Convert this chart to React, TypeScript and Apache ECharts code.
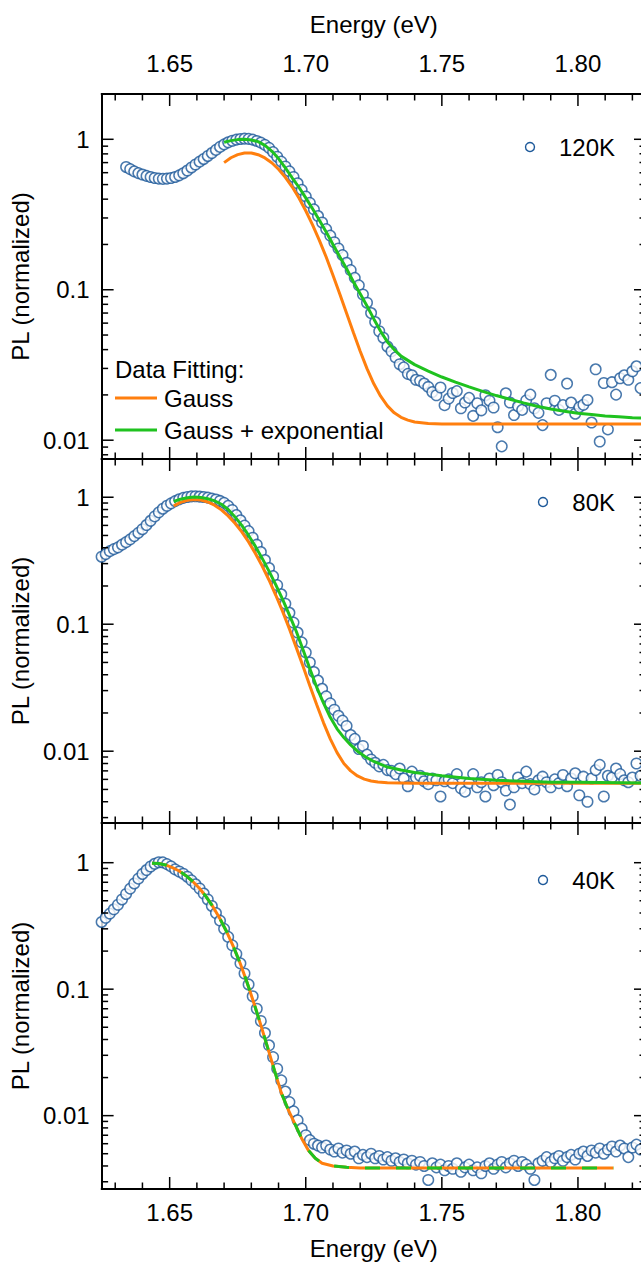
import { useEffect, useRef } from "react";
import * as echarts from "echarts";

// ---------- data ----------
const ENERGY = [
  1.6250, 1.6265, 1.6280, 1.6295, 1.6310, 1.6325, 1.6340, 1.6355, 1.6370, 1.6385,
  1.6400, 1.6415, 1.6430, 1.6445, 1.6460, 1.6475, 1.6490, 1.6505, 1.6520, 1.6535,
  1.6550, 1.6565, 1.6580, 1.6595, 1.6610, 1.6625, 1.6640, 1.6655, 1.6670, 1.6685,
  1.6700, 1.6715, 1.6730, 1.6745, 1.6760, 1.6775, 1.6790, 1.6805, 1.6820, 1.6835,
  1.6850, 1.6865, 1.6880, 1.6895, 1.6910, 1.6925, 1.6940, 1.6955, 1.6970, 1.6985,
  1.7000, 1.7015, 1.7030, 1.7045, 1.7060, 1.7075, 1.7090, 1.7105, 1.7120, 1.7135,
  1.7150, 1.7165, 1.7180, 1.7195, 1.7210, 1.7225, 1.7240, 1.7255, 1.7270, 1.7285,
  1.7300, 1.7315, 1.7330, 1.7345, 1.7360, 1.7375, 1.7390, 1.7405, 1.7420, 1.7435,
  1.7450, 1.7465, 1.7480, 1.7495, 1.7510, 1.7525, 1.7540, 1.7555, 1.7570, 1.7585,
  1.7600, 1.7615, 1.7630, 1.7645, 1.7660, 1.7675, 1.7690, 1.7705, 1.7720, 1.7735,
  1.7750, 1.7765, 1.7780, 1.7795, 1.7810, 1.7825, 1.7840, 1.7855, 1.7870, 1.7885,
  1.7900, 1.7915, 1.7930, 1.7945, 1.7960, 1.7975, 1.7990, 1.8005, 1.8020, 1.8035,
  1.8050, 1.8065, 1.8080, 1.8095, 1.8110, 1.8125, 1.8140, 1.8155, 1.8170, 1.8185,
  1.8200, 1.8215, 1.8230,
];

const PL_120K = [
  null, null, null, null, null, null, 0.655, 0.633, 0.612, 0.596,
  0.583, 0.571, 0.561, 0.553, 0.548, 0.546, 0.548, 0.553, 0.562, 0.576,
  0.595, 0.620, 0.650, 0.680, 0.710, 0.740, 0.775, 0.810, 0.850, 0.890,
  0.925, 0.955, 0.978, 0.995, 1.005, 1.010, 1.007, 0.995, 0.975, 0.950,
  0.918, 0.877, 0.822, 0.766, 0.711, 0.660, 0.612, 0.562, 0.510, 0.461,
  0.417, 0.378, 0.342, 0.309, 0.280, 0.253, 0.229, 0.207, 0.188, 0.170,
  0.151, 0.135, 0.120, 0.107, 0.093, 0.082, 0.070, 0.061, 0.053, 0.048,
  0.042, 0.039, 0.0355, 0.0320, 0.0305, 0.0276, 0.0270, 0.0252, 0.0248, 0.0238,
  0.0226, 0.0209, 0.0199, 0.0224, 0.0171, 0.0189, 0.0206, 0.0212, 0.0163, 0.0178,
  0.0191, 0.0145, 0.0176, 0.0158, 0.0199, 0.0183, 0.0165, 0.0122, 0.0091, 0.0205,
  0.0178, 0.0147, 0.0168, 0.0159, 0.0184, 0.0201, 0.0163, 0.0152, 0.0126, 0.0176,
  0.0272, 0.0183, 0.0159, 0.0171, 0.0238, 0.0178, 0.0150, 0.0166, 0.0172, 0.0185,
  0.0131, 0.0296, 0.0098, 0.0240, 0.0118, 0.0243, 0.0201, 0.0258, 0.0270, 0.0252,
  0.0287, 0.0310, 0.0222,
];

const PL_80K = [
  0.340, 0.357, 0.376, 0.390, 0.403, 0.423, 0.443, 0.466, 0.494, 0.524,
  0.560, 0.604, 0.652, 0.706, 0.760, 0.812, 0.857, 0.895, 0.932, 0.963,
  0.988, 1.004, 1.015, 1.018, 1.012, 1.005, 0.992, 0.975, 0.960, 0.935,
  0.903, 0.855, 0.793, 0.724, 0.658, 0.598, 0.541, 0.480, 0.423, 0.370,
  0.320, 0.277, 0.239, 0.203, 0.172, 0.145, 0.123, 0.103, 0.086, 0.072,
  0.060, 0.050, 0.042, 0.036, 0.031, 0.027, 0.0238, 0.0212, 0.0190, 0.0174,
  0.0158, 0.0134, 0.0125, 0.0104, 0.0110, 0.0094, 0.0086, 0.0081, 0.0076, 0.0078,
  0.0071, 0.0070, 0.0066, 0.0073, 0.0061, 0.0053, 0.0069, 0.0062, 0.0064, 0.0058,
  0.0055, 0.0061, 0.0059, 0.0044, 0.0058, 0.0060, 0.0056, 0.0066, 0.0051, 0.0048,
  0.0056, 0.0066, 0.0052, 0.0057, 0.0044, 0.0061, 0.0054, 0.0065, 0.0057, 0.0049,
  0.0038, 0.0052, 0.0062, 0.0056, 0.0069, 0.0055, 0.0050, 0.0059, 0.0063, 0.0057,
  0.0052, 0.0060, 0.0056, 0.0065, 0.0053, 0.0061, 0.0067, 0.0045, 0.0063, 0.0040,
  0.0061, 0.0071, 0.0078, 0.0044, 0.0064, 0.0062, 0.0073, 0.0066, 0.0059, 0.0057,
  0.0062, 0.0080, 0.0064,
];

const PL_40K = [
  0.340, 0.367, 0.396, 0.428, 0.465, 0.512, 0.566, 0.624, 0.685, 0.748,
  0.815, 0.875, 0.933, 0.980, 1.008, 1.005, 0.975, 0.935, 0.885, 0.852,
  0.818, 0.775, 0.725, 0.675, 0.625, 0.570, 0.512, 0.455, 0.400, 0.348,
  0.300, 0.259, 0.222, 0.190, 0.160, 0.133, 0.109, 0.088, 0.070, 0.056,
  0.045, 0.036, 0.029, 0.0235, 0.0190, 0.0155, 0.0128, 0.0108, 0.0092, 0.0079,
  0.0070, 0.0064, 0.0060, 0.0058, 0.0056, 0.0058, 0.0054, 0.0052, 0.0055, 0.0051,
  0.0053, 0.0050, 0.0052, 0.0046, 0.0049, 0.0047, 0.0050, 0.0046, 0.0048, 0.0045,
  0.0047, 0.0044, 0.0046, 0.0043, 0.0045, 0.0042, 0.0044, 0.0041, 0.0043, 0.0040,
  0.0031, 0.0042, 0.0039, 0.0041, 0.0037, 0.0040, 0.0038, 0.0042, 0.0036, 0.0039,
  0.0041, 0.0037, 0.0039, 0.0035, 0.0040, 0.0042, 0.0038, 0.0041, 0.0043, 0.0039,
  0.0042, 0.0044, 0.0040, 0.0043, 0.0041, 0.0038, 0.0031, 0.0042, 0.0044, 0.0047,
  0.0043, 0.0046, 0.0048, 0.0044, 0.0047, 0.0049, 0.0045, 0.0050, 0.0052, 0.0048,
  0.0053, 0.0051, 0.0055, 0.0050, 0.0054, 0.0057, 0.0052, 0.0058, 0.0055, 0.0047,
  0.0056, 0.0059, 0.0054,
];

// fits: [energy, PL]
const GAUSS_120K = [
  [1.67, 0.7], [1.6725, 0.754], [1.675, 0.791], [1.6775, 0.811], [1.68, 0.811],
  [1.6825, 0.79], [1.685, 0.752], [1.6875, 0.698], [1.69, 0.632], [1.6925, 0.559],
  [1.695, 0.483], [1.6975, 0.407], [1.7, 0.335], [1.7025, 0.27], [1.705, 0.213],
  [1.7075, 0.165], [1.71, 0.125], [1.7125, 0.0938], [1.715, 0.0698], [1.7175, 0.052],
  [1.72, 0.039], [1.7225, 0.0299], [1.725, 0.0237], [1.7275, 0.0196], [1.73, 0.0169],
  [1.7325, 0.0152], [1.735, 0.0142], [1.7375, 0.0136], [1.74, 0.0132], [1.745, 0.0129],
  [1.75, 0.0128], [1.825, 0.0128],
];
const GAUSS_EXP_120K = [
  [1.67, 0.955], [1.6725, 0.98], [1.675, 0.995], [1.6775, 1.0], [1.68, 0.99],
  [1.6825, 0.965], [1.685, 0.912], [1.6875, 0.835], [1.69, 0.745], [1.6925, 0.645],
  [1.695, 0.555], [1.6975, 0.48], [1.7, 0.408], [1.7025, 0.345], [1.705, 0.29],
  [1.7075, 0.242], [1.71, 0.2], [1.7125, 0.166], [1.715, 0.138], [1.7175, 0.113],
  [1.72, 0.094], [1.7225, 0.078], [1.725, 0.064], [1.7275, 0.053], [1.73, 0.045],
  [1.7325, 0.04], [1.735, 0.0362], [1.74, 0.0318], [1.745, 0.0288], [1.75, 0.0263],
  [1.755, 0.0243], [1.76, 0.0226], [1.765, 0.0211], [1.77, 0.0198], [1.775, 0.0187],
  [1.78, 0.0177], [1.785, 0.0168], [1.79, 0.0161], [1.795, 0.0156], [1.8, 0.0151],
  [1.805, 0.0148], [1.81, 0.0145], [1.815, 0.0143], [1.82, 0.0141], [1.825, 0.014],
];
const GAUSS_80K = [
  [1.6515, 0.855], [1.654, 0.911], [1.6565, 0.947], [1.659, 0.961], [1.6615, 0.951],
  [1.664, 0.918], [1.6665, 0.865], [1.669, 0.795], [1.6715, 0.713], [1.674, 0.624],
  [1.6765, 0.533], [1.679, 0.444], [1.6815, 0.361], [1.684, 0.287], [1.6865, 0.223],
  [1.689, 0.169], [1.6915, 0.126], [1.694, 0.0916], [1.6965, 0.0657], [1.699, 0.0466],
  [1.7015, 0.0328], [1.704, 0.0233], [1.7065, 0.0168], [1.709, 0.0125], [1.7115, 0.00975],
  [1.714, 0.008], [1.7165, 0.007], [1.719, 0.00638], [1.7215, 0.00603], [1.724, 0.00582],
  [1.7265, 0.00571], [1.73, 0.00564], [1.74, 0.0056], [1.825, 0.0056],
];
const GAUSS_EXP_80K = [
  [1.6515, 0.925], [1.654, 0.965], [1.6565, 0.992], [1.659, 1.002], [1.6615, 0.995],
  [1.664, 0.972], [1.6665, 0.935], [1.669, 0.88], [1.6715, 0.8], [1.674, 0.7],
  [1.6765, 0.6], [1.679, 0.5], [1.6815, 0.41], [1.684, 0.33], [1.6865, 0.262],
  [1.689, 0.204], [1.6915, 0.157], [1.694, 0.118], [1.6965, 0.088], [1.699, 0.063],
  [1.7015, 0.0445], [1.704, 0.032], [1.7065, 0.024], [1.709, 0.0185], [1.7115, 0.015],
  [1.714, 0.0128], [1.7165, 0.0112], [1.719, 0.01], [1.722, 0.009], [1.725, 0.0083],
  [1.73, 0.0075], [1.735, 0.0071], [1.74, 0.0068], [1.745, 0.0066], [1.75, 0.0064],
  [1.76, 0.0061], [1.77, 0.0059], [1.78, 0.0058], [1.79, 0.0057], [1.8, 0.0057],
  [1.825, 0.0056],
];
const FIT_40K = [
  [1.6435, 0.99], [1.646, 0.985], [1.6485, 0.96], [1.651, 0.915], [1.6535, 0.86],
  [1.656, 0.79], [1.6585, 0.71], [1.661, 0.625], [1.6635, 0.535], [1.666, 0.445],
  [1.6685, 0.36], [1.671, 0.283], [1.6735, 0.215], [1.676, 0.158], [1.6785, 0.112],
  [1.681, 0.077], [1.6835, 0.052], [1.686, 0.0345], [1.6885, 0.0228], [1.691, 0.0152],
  [1.6935, 0.0112], [1.696, 0.0086], [1.6985, 0.0066], [1.701, 0.0053], [1.7035, 0.0046],
  [1.706, 0.0042], [1.71, 0.004], [1.715, 0.0039], [1.72, 0.00386], [1.813, 0.00385],
];

const PANELS = ["120K", "80K", "40K"];
const PANEL_DATA = [PL_120K, PL_80K, PL_40K];
const PANEL_GAUSS = [GAUSS_120K, GAUSS_80K, FIT_40K];
const PANEL_GAUSS_EXP = [GAUSS_EXP_120K, GAUSS_EXP_80K, FIT_40K];
const Y_RANGES = [[0.0075, 2.0], [0.00272, 2.0], [0.00263, 2.06]];
const X_RANGE = [1.625, 1.825];

const X_MAJOR = [1.65, 1.7, 1.75, 1.8];
const X_MINOR = [1.63, 1.64, 1.66, 1.67, 1.68, 1.69, 1.71, 1.72, 1.73, 1.74, 1.76, 1.77, 1.78, 1.79, 1.81, 1.82];
const Y_MAJOR = [0.01, 0.1, 1];
const Y_MINOR = [0.003, 0.004, 0.005, 0.006, 0.007, 0.008, 0.009, 0.02, 0.03, 0.04, 0.05, 0.06, 0.07, 0.08, 0.09, 0.2, 0.3, 0.4, 0.5, 0.6, 0.7, 0.8, 0.9];

const X_TITLE = "Energy (eV)";
const Y_TITLE = "PL (normalized)";
const LEGEND_TITLE = "Data Fitting:";
const LEGEND_GAUSS = "Gauss";
const LEGEND_GAUSS_EXP = "Gauss + exponential";

// ---------- style / layout ----------
const FONT = "'Liberation Sans', Arial, Helvetica, sans-serif";
const BLUE = "#1c5899";
const ORANGE = "#ff7f0e";
const GREEN = "#1fc21f";
const GRID_TOPS = [94, 459, 823];
const GRID_HEIGHTS = [365, 364, 366];
const GRID_LEFT = 100;
const GRID_WIDTH = 546;
const LEGEND_Y = [147, 502, 880];
const LEGEND_CX = [530, 543, 543];

function fmtX(v: number) {
  const k = v * 20;
  return Math.abs(k - Math.round(k)) < 1e-6 ? v.toFixed(2) : "";
}
function fmtY(v: number) {
  const l = Math.log10(v);
  const r = Math.round(l);
  if (Math.abs(l - r) > 1e-3) return "";
  return r >= 0 ? String(Math.pow(10, r)) : Math.pow(10, r).toFixed(-r);
}

function buildOption() {
  const grid: any[] = [];
  const xAxis: any[] = [];
  const yAxis: any[] = [];
  const series: any[] = [];
  const axisLine = { show: true, onZero: false, lineStyle: { color: "#000", width: 2 } };
  const txt = { fontSize: 24, color: "#000", fontFamily: FONT };

  for (let i = 0; i < 3; i++) {
    grid.push({ left: GRID_LEFT, top: GRID_TOPS[i], width: GRID_WIDTH, height: GRID_HEIGHTS[i] });
    xAxis.push({
      type: "value", gridIndex: i, position: "bottom", min: X_RANGE[0], max: X_RANGE[1], splitNumber: 4,
      axisLine, axisTick: { show: false }, splitLine: { show: false },
      axisLabel: { show: i === 2, customValues: X_MAJOR, formatter: fmtX, margin: 11, ...txt },
      name: i === 2 ? X_TITLE : "", nameLocation: "middle", nameGap: 47, nameTextStyle: txt,
    });
    xAxis.push({
      type: "value", gridIndex: i, position: "top", min: X_RANGE[0], max: X_RANGE[1], splitNumber: 4,
      axisLine, axisTick: { show: false }, splitLine: { show: false },
      axisLabel: { show: i === 0, customValues: X_MAJOR, formatter: fmtX, margin: 19, ...txt },
      name: i === 0 ? X_TITLE : "", nameLocation: "middle", nameGap: 58, nameTextStyle: txt,
    });
    yAxis.push({
      type: "log", logBase: 10, gridIndex: i, position: "left", min: Y_RANGES[i][0], max: Y_RANGES[i][1],
      axisLine, axisTick: { show: false }, splitLine: { show: false },
      minorTick: { show: false }, minorSplitLine: { show: false },
      axisLabel: { formatter: fmtY, margin: 12, ...txt },
      name: Y_TITLE, nameLocation: "middle", nameGap: 64, nameTextStyle: txt,
    });
    yAxis.push({
      type: "log", logBase: 10, gridIndex: i, position: "right", min: Y_RANGES[i][0], max: Y_RANGES[i][1],
      axisLine, axisTick: { show: false }, splitLine: { show: false }, axisLabel: { show: false },
    });

    const vals = PANEL_DATA[i];
    const pts: any[] = [];
    ENERGY.forEach((e, k) => {
      if (vals[k] != null) pts.push([e, vals[k]]);
    });
    series.push({
      type: "scatter", xAxisIndex: 2 * i, yAxisIndex: 2 * i, data: pts, symbol: "circle", symbolSize: 10.5,
      itemStyle: { color: "#fff", borderColor: BLUE, borderWidth: 1.5 }, z: 2, silent: true,
    });
    series.push({
      type: "line", xAxisIndex: 2 * i, yAxisIndex: 2 * i, data: PANEL_GAUSS[i], symbol: "none", showSymbol: false,
      lineStyle: { color: ORANGE, width: 3 }, z: 3, silent: true,
    });
    series.push({
      type: "line", xAxisIndex: 2 * i, yAxisIndex: 2 * i, data: PANEL_GAUSS_EXP[i], symbol: "none", showSymbol: false,
      lineStyle: { color: GREEN, width: 3, type: i === 2 ? [15, 16] : "solid" }, z: 4, silent: true,
    });

    const [ymin, ymax] = Y_RANGES[i];
    const ticks: any[] = [];
    X_MAJOR.forEach((v) => ticks.push([v, ymin, 0]));
    X_MINOR.forEach((v) => ticks.push([v, ymin, 1]));
    Y_MAJOR.filter((v) => v > ymin && v < ymax).forEach((v) => ticks.push([X_RANGE[0], v, 2]));
    Y_MINOR.filter((v) => v > ymin && v < ymax).forEach((v) => ticks.push([X_RANGE[0], v, 3]));
    series.push({
      type: "custom", xAxisIndex: 2 * i, yAxisIndex: 2 * i, data: ticks, z: 5, silent: true, clip: false,
      renderItem: (params: any, api: any) => {
        const kind = api.value(2);
        const cs = params.coordSys;
        const p = api.coord([api.value(0), api.value(1)]);
        const st = { stroke: "#000", lineWidth: 1.5 };
        if (kind < 2) {
          const len = kind === 0 ? 12 : 6.5;
          const b = cs.y + cs.height;
          return {
            type: "group",
            children: [
              { type: "line", shape: { x1: p[0], y1: b, x2: p[0], y2: b - len }, style: st },
              { type: "line", shape: { x1: p[0], y1: cs.y, x2: p[0], y2: cs.y + len }, style: st },
            ],
          };
        }
        const len = kind === 2 ? 12 : 6.5;
        const r = cs.x + cs.width;
        return {
          type: "group",
          children: [
            { type: "line", shape: { x1: cs.x, y1: p[1], x2: cs.x + len, y2: p[1] }, style: st },
            { type: "line", shape: { x1: r, y1: p[1], x2: r - len, y2: p[1] }, style: st },
          ],
        };
      },
    });
  }

  const graphic: any[] = [];
  PANELS.forEach((t, i) => {
    graphic.push({
      type: "circle", shape: { cx: LEGEND_CX[i], cy: LEGEND_Y[i], r: 4.5 },
      style: { fill: "#fff", stroke: BLUE, lineWidth: 1.4 }, z: 10,
    });
    graphic.push({
      type: "text", x: 615, y: LEGEND_Y[i],
      style: { text: t, fontSize: 24, fontFamily: FONT, fill: "#000", textAlign: "right", textVerticalAlign: "middle" }, z: 10,
    });
  });
  graphic.push({
    type: "text", x: 115, y: 369,
    style: { text: LEGEND_TITLE, fontSize: 24, fontFamily: FONT, fill: "#000", textAlign: "left", textVerticalAlign: "middle" }, z: 10,
  });
  graphic.push({ type: "line", shape: { x1: 115, y1: 398, x2: 157, y2: 398 }, style: { stroke: ORANGE, lineWidth: 3 }, z: 10 });
  graphic.push({
    type: "text", x: 164, y: 398,
    style: { text: LEGEND_GAUSS, fontSize: 24, fontFamily: FONT, fill: "#000", textAlign: "left", textVerticalAlign: "middle" }, z: 10,
  });
  graphic.push({ type: "line", shape: { x1: 115, y1: 430, x2: 157, y2: 430 }, style: { stroke: GREEN, lineWidth: 3 }, z: 10 });
  graphic.push({
    type: "text", x: 164, y: 430,
    style: { text: LEGEND_GAUSS_EXP, fontSize: 24, fontFamily: FONT, fill: "#000", textAlign: "left", textVerticalAlign: "middle" }, z: 10,
  });

  return {
    animation: false,
    backgroundColor: "#fff",
    textStyle: { fontFamily: FONT },
    grid, xAxis, yAxis, series, graphic,
  };
}

export default function App() {
  const ref = useRef<HTMLDivElement>(null);
  useEffect(() => {
    if (!ref.current) return;
    const chart = echarts.init(ref.current, undefined, { renderer: "svg" });
    chart.setOption(buildOption() as any);
    return () => chart.dispose();
  }, []);
  return (
    <div style={{ position: "absolute", left: 0, top: 0, width: 641, height: 1265, overflow: "hidden", background: "#fff" }}>
      <div ref={ref} style={{ width: 660, height: 1265 }} />
    </div>
  );
}
